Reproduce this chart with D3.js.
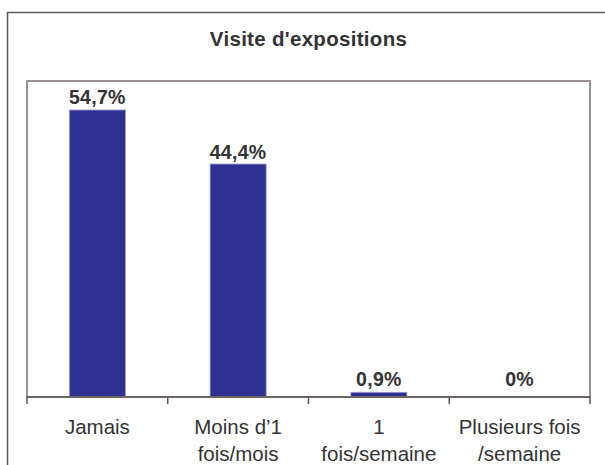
<!DOCTYPE html>
<html>
<head>
<meta charset="utf-8">
<script src="https://cdn.jsdelivr.net/npm/d3@7"></script>
<style>
  html, body { margin: 0; padding: 0; background: #fff; }
  svg { display: block; }
</style>
</head>
<body>
<svg id="chart" width="605" height="465"></svg>
<script>
const title = "Visite d'expositions";
const categories = ["Jamais", "Moins d\u20191\nfois/mois", "1\nfois/semaine", "Plusieurs fois\n/semaine"];
const values = [54.7, 44.4, 0.9, 0];
const valueLabels = ["54,7%", "44,4%", "0,9%", "0%"];
const yDomain = [0, 60];

const svg = d3.select("#chart");
const font = "Arial, 'Liberation Sans', Helvetica, sans-serif";

// outer frame
svg.append("rect")
  .attr("x", 7.5).attr("y", 12.5).attr("width", 610).attr("height", 470)
  .attr("fill", "#fff").attr("stroke", "#5a5a5a").attr("stroke-width", 1.5);

svg.append("text")
  .attr("x", 308.5).attr("y", 45.5)
  .attr("text-anchor", "middle")
  .attr("font-family", font).attr("font-weight", "bold")
  .attr("font-size", 20.5).attr("fill", "#333")
  .attr("letter-spacing", 0.3)
  .text(title);

const plot = {left: 27, right: 590, top: 81, bottom: 397};

const x = d3.scaleBand().domain(categories).range([plot.left, plot.right]).paddingInner(0.6).paddingOuter(0.3);
const xb = d3.scaleBand().domain(categories).range([plot.left, plot.right]).padding(0);
const y = d3.scaleLinear().domain(yDomain).range([plot.bottom, plot.bottom - 5.247 * 60]);

// plot area border
svg.append("rect")
  .attr("x", plot.left).attr("y", plot.top)
  .attr("width", plot.right - plot.left).attr("height", plot.bottom - plot.top)
  .attr("fill", "#fff").attr("stroke", "#9c918e").attr("stroke-width", 2);

// bars
svg.append("g").selectAll("rect")
  .data(values)
  .join("rect")
  .attr("x", (d, i) => xb(categories[i]) + xb.bandwidth() / 2 - 28)
  .attr("y", d => y(d))
  .attr("width", 56)
  .attr("height", d => plot.bottom - y(d))
  .attr("fill", "#2e3192")
  .attr("stroke", "#9a9ad0")
  .attr("stroke-width", d => d > 0 ? 0.8 : 0);

// axis line (bottom)
const axis = d3.axisBottom(xb).tickSize(7).tickFormat("");
const gAxis = svg.append("g").attr("transform", `translate(0,${plot.bottom})`).call(axis);
gAxis.select(".domain").remove();
gAxis.selectAll(".tick").remove();
const ticksX = categories.map(c => xb(c)).concat([plot.right]);
gAxis.selectAll("line.t")
  .data(ticksX).join("line")
  .attr("class", "t")
  .attr("x1", d => d).attr("x2", d => d)
  .attr("y1", 0).attr("y2", 7)
  .attr("stroke", "#555").attr("stroke-width", 1.5);
gAxis.append("line")
  .attr("x1", plot.left - 1).attr("x2", plot.right + 1)
  .attr("y1", 0).attr("y2", 0)
  .attr("stroke", "#6e6462").attr("stroke-width", 2);

// value labels
svg.append("g").selectAll("text")
  .data(values)
  .join("text")
  .attr("x", (d, i) => xb(categories[i]) + xb.bandwidth() / 2)
  .attr("y", d => Math.min(y(d) - 5.5, 386))
  .attr("text-anchor", "middle")
  .attr("font-family", font).attr("font-weight", "bold")
  .attr("font-size", 19.5).attr("fill", "#333")
  .attr("letter-spacing", 0.3)
  .text((d, i) => valueLabels[i]);

// category labels
const catG = svg.append("g");
categories.forEach(c => {
  const lines = c.split("\n");
  const t = catG.append("text")
    .attr("x", xb(c) + xb.bandwidth() / 2)
    .attr("y", 434)
    .attr("text-anchor", "middle")
    .attr("font-family", font)
    .attr("font-size", 20.5).attr("fill", "#333");
  lines.forEach((l, j) => {
    t.append("tspan")
      .attr("x", xb(c) + xb.bandwidth() / 2)
      .attr("dy", j === 0 ? 0 : 27)
      .text(l);
  });
});
</script>
</body>
</html>
